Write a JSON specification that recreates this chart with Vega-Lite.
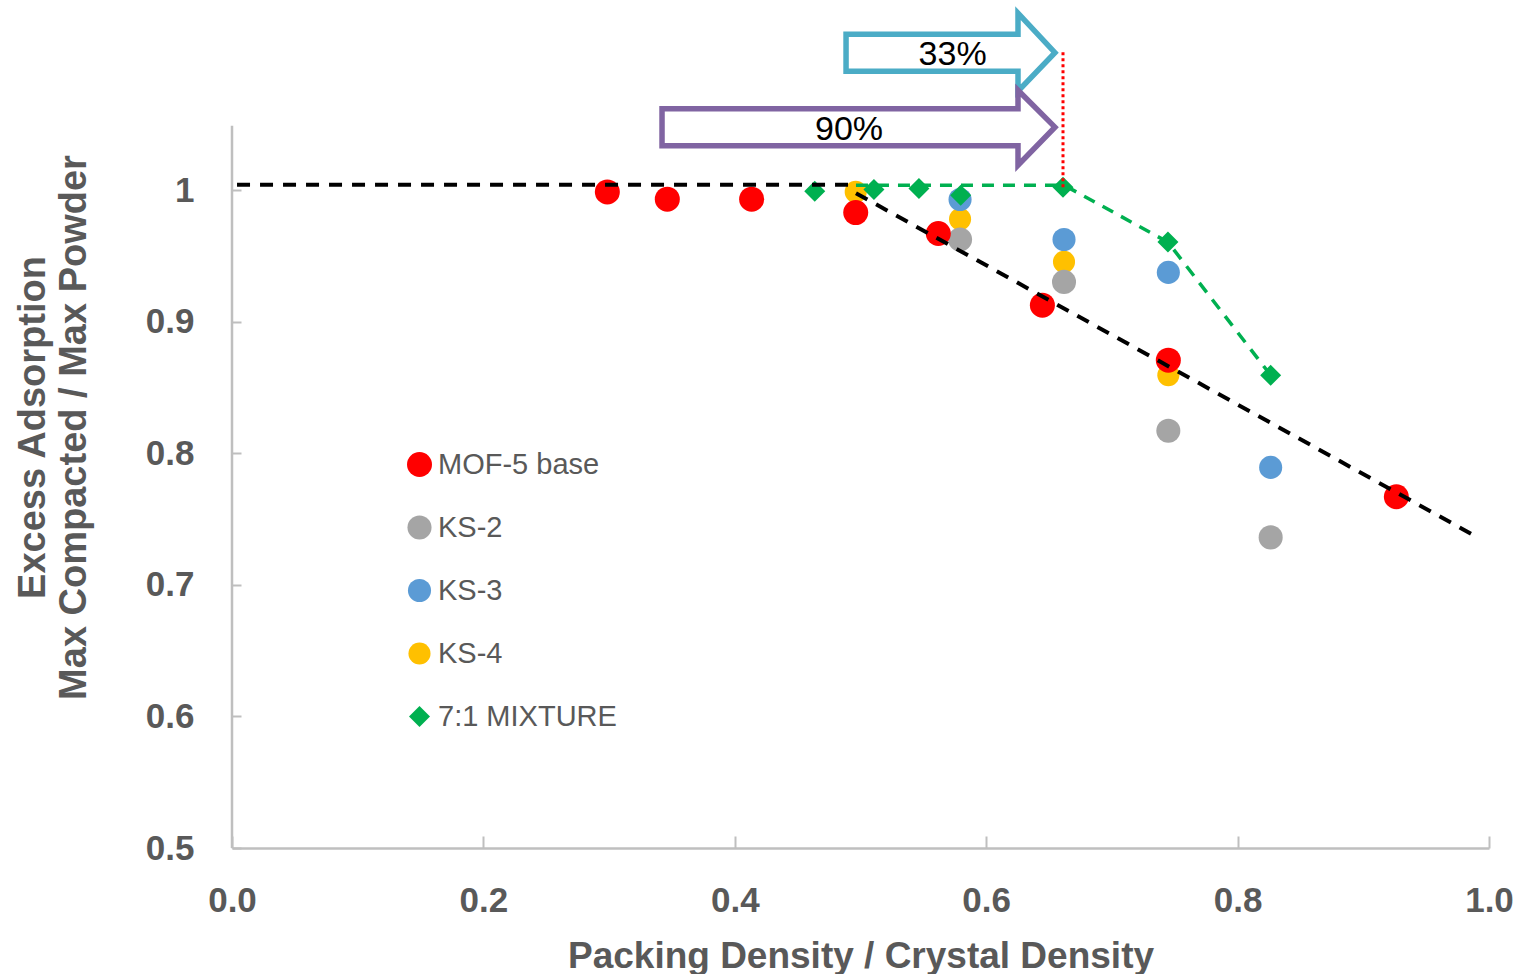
{
  "$schema": "https://vega.github.io/schema/vega-lite/v6.json",
  "width": 1257,
  "height": 842,
  "padding": {"left": 14, "top": 2, "right": 5, "bottom": 0},
  "background": "white",
  "config": {"view": {"stroke": null}, "font": "Liberation Sans"},
  "datasets": {
    "points": [
      {"series": "KS-4", "x": 0.4962, "y": 0.9987},
      {"series": "KS-4", "x": 0.5792, "y": 0.9780},
      {"series": "KS-4", "x": 0.6619, "y": 0.9455},
      {"series": "KS-4", "x": 0.7449, "y": 0.8594},
      {"series": "KS-3", "x": 0.5792, "y": 0.9929},
      {"series": "KS-3", "x": 0.6619, "y": 0.9625},
      {"series": "KS-3", "x": 0.7449, "y": 0.9375},
      {"series": "KS-3", "x": 0.8263, "y": 0.7893},
      {"series": "KS-2", "x": 0.5792, "y": 0.9625},
      {"series": "KS-2", "x": 0.6619, "y": 0.9303},
      {"series": "KS-2", "x": 0.7449, "y": 0.8171},
      {"series": "KS-2", "x": 0.8263, "y": 0.7361},
      {"series": "MOF-5 base", "x": 0.2986, "y": 0.9987},
      {"series": "MOF-5 base", "x": 0.3463, "y": 0.9932},
      {"series": "MOF-5 base", "x": 0.4134, "y": 0.9932},
      {"series": "MOF-5 base", "x": 0.4962, "y": 0.9830},
      {"series": "MOF-5 base", "x": 0.5619, "y": 0.9671},
      {"series": "MOF-5 base", "x": 0.6447, "y": 0.9126},
      {"series": "MOF-5 base", "x": 0.7449, "y": 0.8708},
      {"series": "MOF-5 base", "x": 0.9263, "y": 0.7670},
      {"series": "7:1 MIXTURE", "x": 0.4636, "y": 0.9992},
      {"series": "7:1 MIXTURE", "x": 0.5107, "y": 1.0005},
      {"series": "7:1 MIXTURE", "x": 0.5465, "y": 1.0013},
      {"series": "7:1 MIXTURE", "x": 0.5797, "y": 0.9962},
      {"series": "7:1 MIXTURE", "x": 0.6611, "y": 1.0023},
      {"series": "7:1 MIXTURE", "x": 0.7446, "y": 0.9607},
      {"series": "7:1 MIXTURE", "x": 0.8263, "y": 0.8594}
    ],
    "blackTrend": [
      {"seg": "flat", "x": 0.004, "y": 1.0042},
      {"seg": "flat", "x": 0.497, "y": 1.0042},
      {"seg": "slope", "x": 0.4964, "y": 0.9977},
      {"seg": "slope", "x": 0.9905, "y": 0.7363}
    ],
    "greenTrend": [
      {"x": 0.4964, "y": 1.0038},
      {"x": 0.6619, "y": 1.0038},
      {"x": 0.7446, "y": 0.9605},
      {"x": 0.8266, "y": 0.8590}
    ],
    "arrows": [
      {"arrow": "33%", "i": 0, "x": 0.4885, "y": 1.1185},
      {"arrow": "33%", "i": 1, "x": 0.6253, "y": 1.1185},
      {"arrow": "33%", "i": 2, "x": 0.6253, "y": 1.1345},
      {"arrow": "33%", "i": 3, "x": 0.6547, "y": 1.1045},
      {"arrow": "33%", "i": 4, "x": 0.6253, "y": 1.0752},
      {"arrow": "33%", "i": 5, "x": 0.6253, "y": 1.0904},
      {"arrow": "33%", "i": 6, "x": 0.4885, "y": 1.0904},
      {"arrow": "33%", "i": 7, "x": 0.4885, "y": 1.1185},
      {"arrow": "90%", "i": 0, "x": 0.3421, "y": 1.0619},
      {"arrow": "90%", "i": 1, "x": 0.6253, "y": 1.0619},
      {"arrow": "90%", "i": 2, "x": 0.6253, "y": 1.0760},
      {"arrow": "90%", "i": 3, "x": 0.6547, "y": 1.0479},
      {"arrow": "90%", "i": 4, "x": 0.6253, "y": 1.0190},
      {"arrow": "90%", "i": 5, "x": 0.6253, "y": 1.0338},
      {"arrow": "90%", "i": 6, "x": 0.3421, "y": 1.0338},
      {"arrow": "90%", "i": 7, "x": 0.3421, "y": 1.0619}
    ],
    "labels": [
      {"label": "33%", "x": 0.5733, "y": 1.1026},
      {"label": "90%", "x": 0.4909, "y": 1.0461}
    ]
  },
  "layer": [
    {
      "data": {"name": "points"},
      "mark": {"type": "point", "filled": true, "opacity": 1, "strokeWidth": 0},
      "encoding": {
        "x": {
          "field": "x", "type": "quantitative",
          "scale": {"domain": [0, 1], "nice": false, "zero": false},
          "axis": {
            "title": "Packing Density / Crystal Density",
            "values": [0, 0.2, 0.4, 0.6, 0.8, 1.0],
            "format": ".1f",
            "grid": false,
            "labelFlush": false,
            "labelFont": "Liberation Sans", "labelFontWeight": "bold", "labelFontSize": 35, "labelColor": "#595959",
            "labelPadding": 47,
            "tickSize": -12, "tickWidth": 2, "tickColor": "#bfbfbf",
            "domainColor": "#bfbfbf", "domainWidth": 2.5,
            "titleFont": "Liberation Sans", "titleFontWeight": "bold", "titleFontSize": 37, "titleColor": "#595959",
            "titlePadding": 20
          }
        },
        "y": {
          "field": "y", "type": "quantitative",
          "scale": {"domain": [0.5, 1.14], "nice": false, "zero": false},
          "axis": {
            "title": ["Excess Adsorption", "Max Compacted / Max Powder"],
            "values": [0.5, 0.6, 0.7, 0.8, 0.9, 1.0],
            "format": ".1~f",
            "grid": false,
            "domain": false,
            "labelFlush": false,
            "labelFont": "Liberation Sans", "labelFontWeight": "bold", "labelFontSize": 35, "labelColor": "#595959",
            "labelPadding": 47,
            "tickSize": -9, "tickWidth": 2, "tickColor": "#bfbfbf",
            "titleFont": "Liberation Sans", "titleFontWeight": "bold", "titleFontSize": 38, "titleColor": "#595959",
            "titleLineHeight": 41,
            "titlePadding": 52
          }
        },
        "color": {
          "field": "series", "type": "nominal",
          "scale": {
            "domain": ["MOF-5 base", "KS-2", "KS-3", "KS-4", "7:1 MIXTURE"],
            "range": ["#ff0000", "#a5a5a5", "#5b9bd5", "#ffc000", "#00b050"]
          },
          "legend": {
            "title": null,
            "orient": "none",
            "legendX": 173,
            "legendY": 444,
            "direction": "vertical",
            "padding": 0,
            "rowPadding": 33,
            "labelFont": "Liberation Sans",
            "labelFontSize": 29,
            "labelColor": "#595959",
            "labelOffset": 4,
            "labelLimit": 400,
            "symbolStrokeWidth": 0
          }
        },
        "shape": {
          "field": "series", "type": "nominal",
          "scale": {
            "domain": ["MOF-5 base", "KS-2", "KS-3", "KS-4", "7:1 MIXTURE"],
            "range": ["circle", "circle", "circle", "circle", "diamond"]
          }
        },
        "size": {
          "field": "series", "type": "nominal",
          "scale": {
            "domain": ["MOF-5 base", "KS-2", "KS-3", "KS-4", "7:1 MIXTURE"],
            "range": [625, 441, 441, 441, 484]
          }
        }
      }
    },
    {
      "data": {"values": [{}]},
      "mark": {"type": "rule", "color": "#bfbfbf", "strokeWidth": 2.5},
      "encoding": {
        "x": {"datum": 0, "type": "quantitative"},
        "y": {"datum": 0.5, "type": "quantitative"},
        "y2": {"datum": 1.049}
      }
    },
    {
      "data": {"name": "blackTrend"},
      "mark": {"type": "line", "color": "#000000", "strokeWidth": 4, "strokeDash": [13, 10]},
      "encoding": {
        "x": {"field": "x", "type": "quantitative"},
        "y": {"field": "y", "type": "quantitative"},
        "detail": {"field": "seg"}
      }
    },
    {
      "data": {"name": "greenTrend"},
      "mark": {"type": "line", "color": "#00b050", "strokeWidth": 3.5, "strokeDash": [12, 9]},
      "encoding": {
        "x": {"field": "x", "type": "quantitative"},
        "y": {"field": "y", "type": "quantitative"}
      }
    },
    {
      "data": {"values": [{}]},
      "mark": {"type": "rule", "color": "#ff0000", "strokeWidth": 3, "strokeDash": [3, 3]},
      "encoding": {
        "x": {"datum": 0.6611, "type": "quantitative"},
        "y": {"datum": 1.0023, "type": "quantitative"},
        "y2": {"datum": 1.1064}
      }
    },
    {
      "data": {"name": "arrows"},
      "transform": [{"filter": "datum.arrow === '33%'"}],
      "mark": {"type": "line", "color": "#4bacc6", "strokeWidth": 5.5, "strokeJoin": "miter", "strokeCap": "square"},
      "encoding": {
        "x": {"field": "x", "type": "quantitative"},
        "y": {"field": "y", "type": "quantitative"},
        "order": {"field": "i", "type": "quantitative"}
      }
    },
    {
      "data": {"name": "arrows"},
      "transform": [{"filter": "datum.arrow === '90%'"}],
      "mark": {"type": "line", "color": "#8064a2", "strokeWidth": 5.5, "strokeJoin": "miter", "strokeCap": "square"},
      "encoding": {
        "x": {"field": "x", "type": "quantitative"},
        "y": {"field": "y", "type": "quantitative"},
        "order": {"field": "i", "type": "quantitative"}
      }
    },
    {
      "data": {"name": "labels"},
      "mark": {"type": "text", "font": "Liberation Sans", "fontSize": 34, "color": "#000000", "align": "center", "baseline": "middle"},
      "encoding": {
        "x": {"field": "x", "type": "quantitative"},
        "y": {"field": "y", "type": "quantitative"},
        "text": {"field": "label"}
      }
    }
  ]
}
